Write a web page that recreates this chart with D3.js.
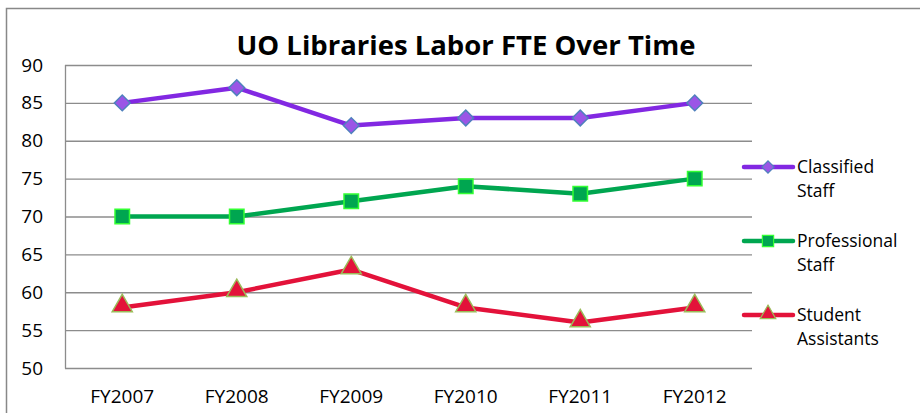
<!DOCTYPE html>
<html>
<head>
<meta charset="utf-8">
<script src="https://cdn.jsdelivr.net/npm/d3@7"></script>
<style>
body { margin:0; background:#fff; }
text { font-family: "Open Sans", "Noto Sans", sans-serif; fill:#000; }
</style>
</head>
<body>
<div id="vis"></div>
<script>
var years = ["FY2007","FY2008","FY2009","FY2010","FY2011","FY2012"];
var classified = [85,87,82,83,83,85];
var professional = [70,70,72,74,73,75];
var student = [58,60,63,58,56,58];
var yTicks = [50,55,60,65,70,75,80,85,90];

var w = 920, h = 413;
var pl = 65, pr = 752, pt = 65, pb = 368;

var svg = d3.select("div#vis").append("svg")
  .attr("width", w)
  .attr("height", h);

// outer chart border
svg.append("rect")
  .attr("x", 6.5).attr("y", 8.5)
  .attr("width", 940).attr("height", 420)
  .style("fill", "none").style("stroke", "#888").style("stroke-width", 1.5);

var x = d3.scaleBand().domain(years).range([pl, pr]);
var y = d3.scaleLinear().domain([50, 90]).range([pb, pt]);

// gridlines
svg.selectAll("line.grid").data(yTicks).enter().append("line")
  .attr("class", "grid")
  .attr("x1", pl).attr("x2", pr)
  .attr("y1", function(d){ return y(d) + 0.5; })
  .attr("y2", function(d){ return y(d) + 0.5; })
  .style("stroke", "#8c8c8c").style("stroke-width", 1.3);

svg.append("line")
  .attr("x1", pl + 0.5).attr("x2", pl + 0.5)
  .attr("y1", pt).attr("y2", pb + 0.5)
  .style("stroke", "#8c8c8c").style("stroke-width", 1.3);

// y labels
svg.selectAll("text.ytick").data(yTicks).enter().append("text")
  .attr("class", "ytick")
  .attr("x", 43)
  .attr("y", function(d){ return y(d) + 6.5; })
  .attr("text-anchor", "end")
  .style("font-size", "19px")
  .text(function(d){ return d; });

// x labels
svg.selectAll("text.xtick").data(years).enter().append("text")
  .attr("class", "xtick")
  .attr("x", function(d){ return x(d) + x.bandwidth()/2; })
  .attr("y", 403)
  .attr("text-anchor", "middle")
  .style("font-size", "19px")
  .text(function(d){ return d; });

// title
svg.append("text")
  .attr("x", 466).attr("y", 55)
  .attr("text-anchor", "middle")
  .style("font-size", "27.5px").style("font-weight", "bold")
  .text("UO Libraries Labor FTE Over Time");

var series = [
  {name:["Classified","Staff"], values:classified, line:"#8228e2", fill:"#9b55e6", stroke:"#4f81bd", shape:d3.symbolSquare, rot:45, size:125, dy:0, ly:167},
  {name:["Professional","Staff"], values:professional, line:"#00a650", fill:"#00a650", stroke:"#33ff33", shape:d3.symbolSquare, rot:0, size:210, dy:0, ly:241},
  {name:["Student","Assistants"], values:student, line:"#e3123a", fill:"#e3123a", stroke:"#9bbb59", shape:d3.symbolTriangle, rot:0, size:175, dy:-1.5, ly:315}
];

var line = d3.line()
  .x(function(d,i){ return x(years[i]) + x.bandwidth()/2; })
  .y(function(d){ return y(d); });

series.forEach(function(s){
  svg.append("path")
    .attr("d", line(s.values))
    .style("fill", "none").style("stroke", s.line)
    .style("stroke-width", 4.5).style("stroke-linejoin", "round");

  svg.selectAll(null).data(s.values).enter().append("path")
    .attr("transform", function(d,i){
      return "translate(" + (x(years[i]) + x.bandwidth()/2) + "," + (y(d) + s.dy) + ") rotate(" + s.rot + ")";
    })
    .attr("d", d3.symbol().type(s.shape).size(s.size))
    .style("fill", s.fill).style("stroke", s.stroke).style("stroke-width", 1.5);

  // legend
  svg.append("line")
    .attr("x1", 744).attr("x2", 793)
    .attr("y1", s.ly).attr("y2", s.ly)
    .style("stroke", s.line).style("stroke-width", 4.5).style("stroke-linecap", "round");
  svg.append("path")
    .attr("transform", "translate(768," + (s.ly + s.dy * 0.6) + ") rotate(" + s.rot + ")")
    .attr("d", d3.symbol().type(s.shape).size(s.size * 0.6))
    .style("fill", s.fill).style("stroke", s.stroke).style("stroke-width", 1.2);
  svg.append("text")
    .attr("x", 797).attr("y", s.ly + 5.5)
    .style("font-size", "17.5px")
    .text(s.name[0]);
  svg.append("text")
    .attr("x", 797).attr("y", s.ly + 29.5)
    .style("font-size", "17.5px")
    .text(s.name[1]);
});
</script>
</body>
</html>
